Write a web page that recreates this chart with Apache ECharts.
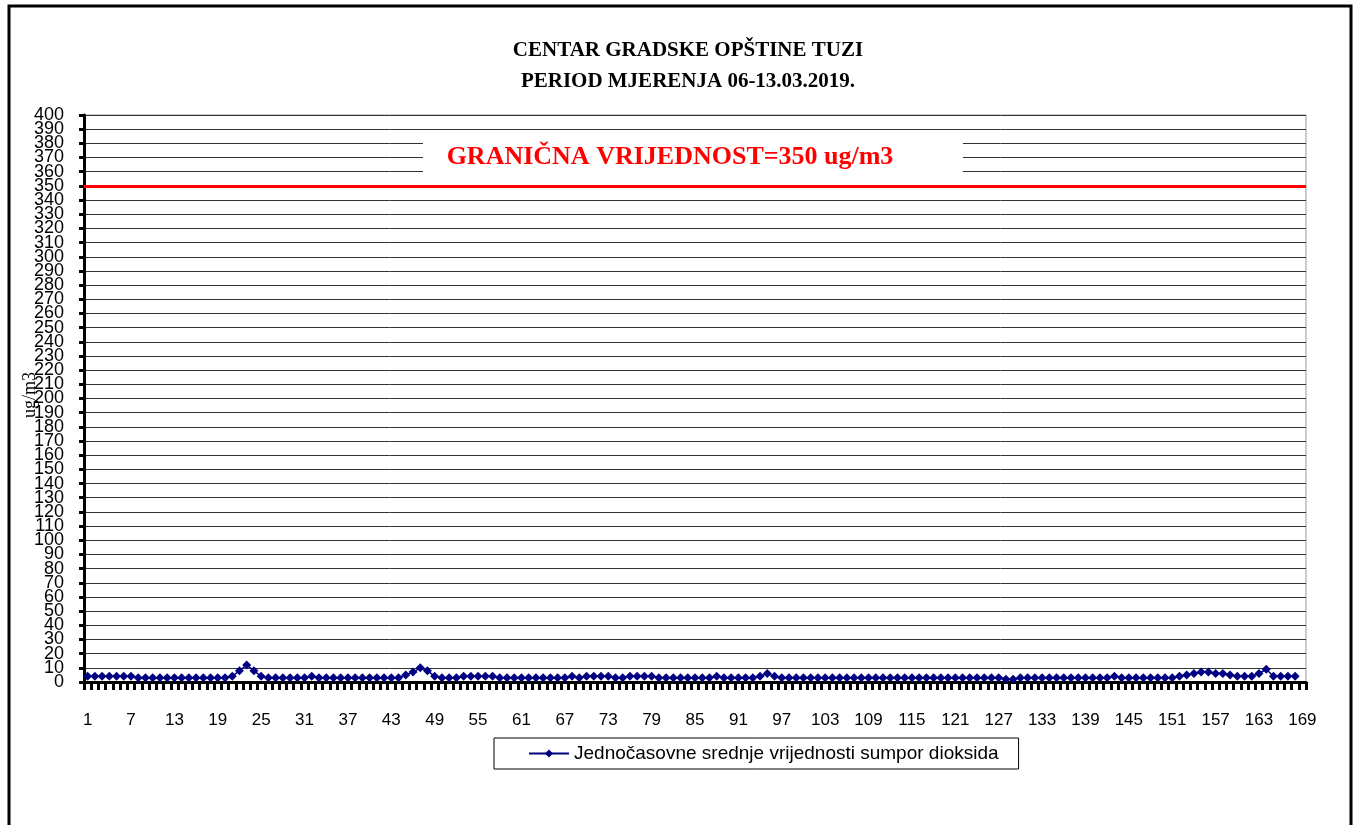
<!DOCTYPE html>
<html>
<head>
<meta charset="utf-8">
<script src="https://cdn.jsdelivr.net/npm/echarts@6/dist/echarts.min.js"></script>
<style>
  html, body { margin: 0; padding: 0; background: #fff; }
  #main { width: 1356px; height: 825px; }
</style>
</head>
<body>
<div id="main"></div>
<script>
(function () {

    var titleLines = ['CENTAR GRADSKE OPŠTINE TUZI', 'PERIOD MJERENJA 06-13.03.2019.'];
    var seriesName = 'Jednočasovne srednje vrijednosti sumpor dioksida';
    var limitText = 'GRANIČNA VRIJEDNOST=350 ug/m3';
    var yName = 'ug/m3';
    var limitValue = 350;
    var yMin = 0;
    var yMax = 400;
    var yStep = 10;

    // hours 1..169
    var hours = [];
    for (var h = 1; h <= 169; h++) {
        hours.push(String(h));
    }

    // hourly SO2 values (168 hours)
    var so2 = [
        4, 4, 4, 4, 4, 4, 4, 3, 3, 3,
        3, 3, 3, 3, 3, 3, 3, 3, 3, 3,
        4, 8, 12, 8, 4, 3, 3, 3, 3, 3,
        3, 4, 3, 3, 3, 3, 3, 3, 3, 3,
        3, 3, 3, 3, 5, 7, 10, 8, 4, 3,
        3, 3, 4, 4, 4, 4, 4, 3, 3, 3,
        3, 3, 3, 3, 3, 3, 3, 4, 3, 4,
        4, 4, 4, 3, 3, 4, 4, 4, 4, 3,
        3, 3, 3, 3, 3, 3, 3, 4, 3, 3,
        3, 3, 3, 4, 6, 4, 3, 3, 3, 3,
        3, 3, 3, 3, 3, 3, 3, 3, 3, 3,
        3, 3, 3, 3, 3, 3, 3, 3, 3, 3,
        3, 3, 3, 3, 3, 3, 3, 2, 2, 3,
        3, 3, 3, 3, 3, 3, 3, 3, 3, 3,
        3, 3, 4, 3, 3, 3, 3, 3, 3, 3,
        3, 4, 5, 6, 7, 7, 6, 6, 5, 4,
        4, 4, 6, 9, 4, 4, 4, 4
    ];

    var myChart = echarts.init(document.getElementById('main'));

    var labelFont = {
        fontFamily: 'Liberation Sans',
        fontSize: 18,
        color: '#000'
    };

    var option = {
        backgroundColor: '#fff',
        animation: false,
        title: {
            text: titleLines.join('\n'),
            left: 683,
            top: 30,
            textAlign: 'center',
            textStyle: {
                fontFamily: 'Liberation Serif',
                fontSize: 21,
                fontWeight: 'bold',
                color: '#000',
                lineHeight: 31
            }
        },
        legend: {
            data: [seriesName],
            left: 494,
            top: 738,
            backgroundColor: '#fff',
            borderColor: '#000',
            borderWidth: 1,
            padding: [6, 20, 6, 34],
            itemWidth: 40,
            itemHeight: 10,
            textStyle: {
                fontFamily: 'Liberation Sans',
                fontSize: 19,
                color: '#000'
            }
        },
        grid: {
            left: 84,
            right: 50,
            top: 115,
            bottom: 143,
            show: true,
            borderColor: '#999',
            borderWidth: 1,
            backgroundColor: '#fff'
        },
        xAxis: {
            type: 'category',
            data: hours,
            boundaryGap: true,
            axisLine: { show: true, lineStyle: { color: '#000', width: 3 } },
            axisTick: {
                show: true,
                interval: 0,
                length: 8,
                lineStyle: { color: '#000', width: 3 }
            },
            axisLabel: {
                interval: 5,
                margin: 30,
                fontFamily: 'Liberation Sans',
                fontSize: 17,
                color: '#000'
            },
            splitLine: { show: false }
        },
        yAxis: [
            {
                // main axis: line, ticks, grid lines, and the end labels
                type: 'value',
                min: yMin,
                max: yMax,
                interval: yStep,
                axisLine: { show: true, lineStyle: { color: '#000', width: 3 } },
                axisTick: { show: true, length: 5, lineStyle: { color: '#000', width: 3 } },
                axisLabel: Object.assign({
                    margin: 20,
                    showMinLabel: true,
                    showMaxLabel: true,
                    hideOverlap: false,
                    formatter: function (v) {
                        return (v === yMin || v === yMax) ? String(v) : '';
                    }
                }, labelFont),
                splitLine: { lineStyle: { color: '#333', width: 1 } }
            },
            {
                // inner labels (10..390), drawn on top of the same scale
                type: 'value',
                min: yMin,
                max: yMax,
                interval: yStep,
                position: 'left',
                offset: 0,
                axisLine: { show: false },
                axisTick: { show: false },
                splitLine: { show: false },
                axisLabel: Object.assign({
                    margin: 20,
                    showMinLabel: false,
                    showMaxLabel: false,
                    hideOverlap: false
                }, labelFont)
            }
        ],
        series: [
            {
                name: seriesName,
                type: 'line',
                data: so2,
                symbol: 'diamond',
                symbolSize: 9,
                showSymbol: true,
                showAllSymbol: true,
                itemStyle: { color: '#000080' },
                lineStyle: { color: '#000080', width: 1.5 },
                markLine: {
                    silent: true,
                    symbol: 'none',
                    label: { show: false },
                    lineStyle: { color: '#ff0000', width: 3, type: 'solid' },
                    data: [{ yAxis: limitValue }]
                }
            }
        ],
        graphic: [
            {
                type: 'rect',
                shape: { x: 423, y: 136, width: 540, height: 42 },
                style: { fill: '#fff' },
                z: 10
            },
            {
                type: 'text',
                x: 670,
                y: 157,
                style: {
                    text: limitText,
                    fill: '#ff0000',
                    fontFamily: 'Liberation Serif',
                    fontSize: 26,
                    fontWeight: 'bold',
                    align: 'center',
                    verticalAlign: 'middle'
                },
                z: 11
            },
            {
                type: 'text',
                x: 30,
                y: 395,
                rotation: Math.PI / 2,
                style: {
                    text: yName,
                    fill: '#000',
                    fontFamily: 'Liberation Serif',
                    fontSize: 18,
                    align: 'center',
                    verticalAlign: 'middle'
                },
                z: 11
            },
            {
                type: 'rect',
                shape: { x: 9, y: 6, width: 1342, height: 840 },
                style: { fill: 'none', stroke: '#000', lineWidth: 3 },
                z: 20
            }
        ]
    };

    myChart.setOption(option);

}());
</script>
</body>
</html>
